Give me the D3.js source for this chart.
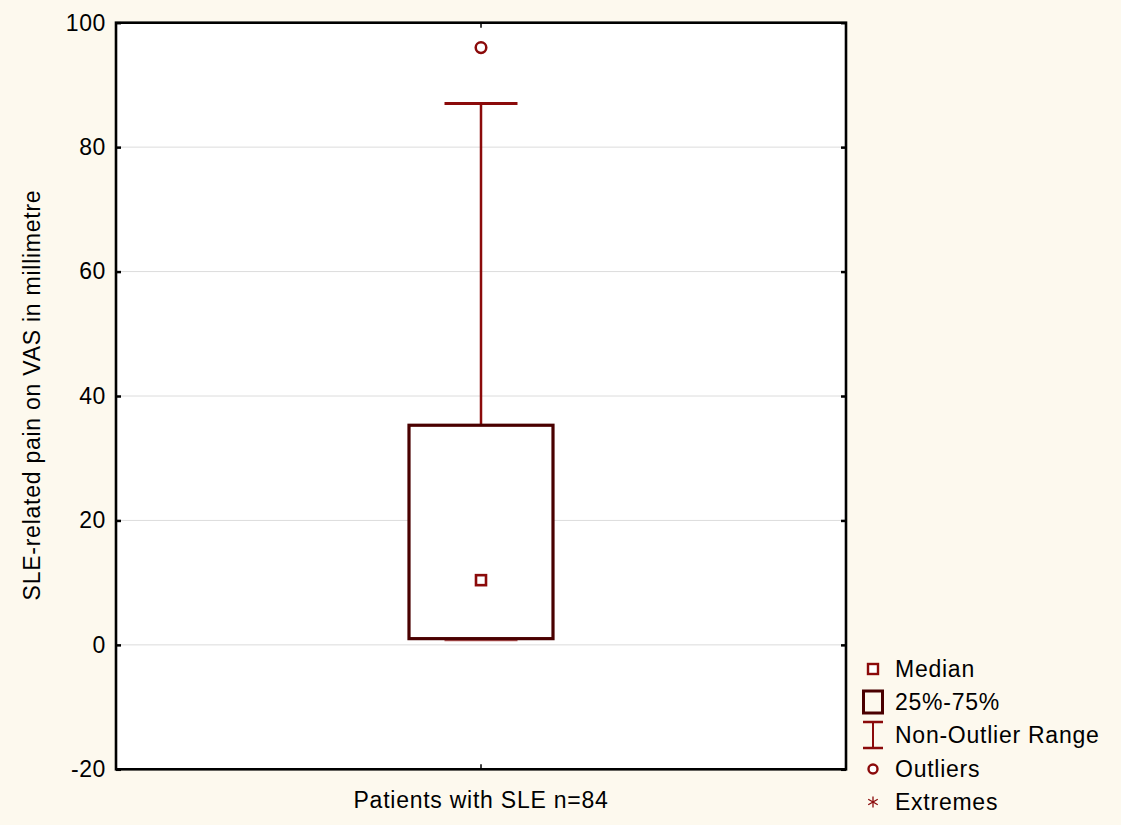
<!DOCTYPE html>
<html>
<head>
<meta charset="utf-8">
<script src="https://cdn.jsdelivr.net/npm/d3@7/dist/d3.min.js"></script>
<style>
  html, body { margin: 0; padding: 0; background: #FDF9EE; }
  svg { display: block; }
  text { font-family: "Liberation Sans", Arial, sans-serif; fill: #000; }
</style>
</head>
<body>
<svg id="chart" width="1121" height="825"></svg>
<script>
// Box plot summary of SLE-related pain (VAS, mm)
const categories = ["Patients with SLE n=84"];
const medians = [10.4];
const q1s = [1.0];
const q3s = [35.3];
const whiskerLows = [0.8];
const whiskerHighs = [87.0];
const outliers = [[96.0]];
const extremes = [[]];
const yTicks = [-20, 0, 20, 40, 60, 80, 100];
const legendLabels = ["Median", "25%-75%", "Non-Outlier Range", "Outliers", "Extremes"];

const svg = d3.select("#chart");
const W = 1121, H = 825;
const margin = { left: 116, right: W - 846, top: 22.7, bottom: H - 769.3 };
const x0 = margin.left, x1 = W - margin.right;
const yTop = margin.top, yBot = H - margin.bottom;

const boxColor = "#4A0000";
const markColor = "#8B0A0A";
const font = "Liberation Sans, Arial, sans-serif";

const x = d3.scaleBand().domain(categories).range([x0, x1]);
const y = d3.scaleLinear().domain([-20, 100]).range([yBot, yTop]);

// plot area
svg.append("rect").attr("x", x0).attr("y", yTop).attr("width", x1 - x0).attr("height", yBot - yTop)
  .attr("fill", "#fff");

// gridlines
svg.append("g").selectAll("line").data(yTicks.filter(t => t > -20 && t < 100)).join("line")
  .attr("x1", x0).attr("x2", x1)
  .attr("y1", d => y(d)).attr("y2", d => y(d))
  .attr("stroke", "#DCDCDC").attr("stroke-width", 1);

const boxW = 144, capW = 73;

categories.forEach((c, i) => {
  const cx = x(c) + x.bandwidth() / 2;
  const g = svg.append("g");
  // whisker stems
  g.append("line").attr("x1", cx).attr("x2", cx)
    .attr("y1", y(whiskerHighs[i])).attr("y2", y(q3s[i]))
    .attr("stroke", markColor).attr("stroke-width", 2.5);
  g.append("line").attr("x1", cx).attr("x2", cx)
    .attr("y1", y(q1s[i])).attr("y2", y(whiskerLows[i]))
    .attr("stroke", markColor).attr("stroke-width", 2.5);
  // whisker caps
  [whiskerHighs[i], whiskerLows[i]].forEach((v, k) => {
    g.append("line").attr("x1", cx - capW / 2).attr("x2", cx + capW / 2)
      .attr("y1", y(v)).attr("y2", y(v))
      .attr("stroke", k === 0 ? markColor : "#B35555").attr("stroke-width", k === 0 ? 3 : 2.5);
  });
  // box
  g.append("rect").attr("x", cx - boxW / 2).attr("width", boxW)
    .attr("y", y(q3s[i])).attr("height", y(q1s[i]) - y(q3s[i]))
    .attr("fill", "#fff").attr("stroke", boxColor).attr("stroke-width", 3.2);
  // median marker
  g.append("rect").attr("x", cx - 5).attr("y", y(medians[i]) - 5)
    .attr("width", 10).attr("height", 10)
    .attr("fill", "#fff").attr("stroke", markColor).attr("stroke-width", 2.6);
  // outliers
  g.selectAll("circle.out").data(outliers[i]).join("circle").attr("class", "out")
    .attr("cx", cx).attr("cy", d => y(d)).attr("r", 5.3)
    .attr("fill", "#fff").attr("stroke", markColor).attr("stroke-width", 2.5);
  // extremes
  g.selectAll("text.ext").data(extremes[i]).join("text").attr("class", "ext")
    .attr("x", cx).attr("y", d => y(d)).text("*");
});

// frame
svg.append("rect").attr("x", x0).attr("y", yTop).attr("width", x1 - x0).attr("height", yBot - yTop)
  .attr("fill", "none").attr("stroke", "#000").attr("stroke-width", 2.6);

// left axis
const yAxis = d3.axisLeft(y).tickValues(yTicks).tickSize(-5).tickPadding(14).tickFormat(d => String(d));
const ga = svg.append("g").attr("transform", `translate(${x0},0)`).call(yAxis);
ga.select(".domain").remove();
ga.selectAll(".tick line").attr("stroke", "#000").attr("stroke-width", 2.5);
ga.selectAll(".tick text").attr("font-size", 23).attr("letter-spacing", "0.6px")
  .attr("font-family", font).attr("fill", "#000").attr("dx", 4);

// right axis ticks
const yAxisR = d3.axisRight(y).tickValues(yTicks).tickSize(-5).tickFormat("");
const gr = svg.append("g").attr("transform", `translate(${x1},0)`).call(yAxisR);
gr.select(".domain").remove();
gr.selectAll(".tick line").attr("stroke", "#000").attr("stroke-width", 2.5);

// bottom axis
const xAxis = d3.axisBottom(x).tickSize(-5).tickPadding(22);
const gb = svg.append("g").attr("transform", `translate(0,${yBot})`).call(xAxis);
gb.select(".domain").remove();
gb.selectAll(".tick line").attr("stroke", "#000").attr("stroke-width", 1.5);
gb.selectAll(".tick text").attr("font-size", 23).attr("letter-spacing", "0.75px")
  .attr("font-family", font).attr("fill", "#000");

// top axis tick
const xAxisT = d3.axisTop(x).tickSize(-5).tickFormat("");
const gt = svg.append("g").attr("transform", `translate(0,${yTop})`).call(xAxisT);
gt.select(".domain").remove();
gt.selectAll(".tick line").attr("stroke", "#000").attr("stroke-width", 1.5);

// y-axis title
svg.append("text")
  .attr("transform", `translate(40,395) rotate(-90)`)
  .attr("text-anchor", "middle").attr("font-size", 23).attr("letter-spacing", "0.75px")
  .text("SLE-related pain on VAS in millimetre");

// legend
const legY = [669, 702, 735, 769, 802];
const lx = 873;
const leg = svg.append("g");
legendLabels.forEach((lab, i) => {
  leg.append("text").attr("x", 895).attr("y", legY[i] + 8).attr("font-size", 23)
    .attr("letter-spacing", "0.75px").text(lab);
});
leg.append("rect").attr("x", lx - 5).attr("y", legY[0] - 5).attr("width", 10).attr("height", 10)
  .attr("fill", "#fff").attr("stroke", markColor).attr("stroke-width", 2.4);
leg.append("rect").attr("x", lx - 9.5).attr("y", legY[1] - 11).attr("width", 19).attr("height", 22)
  .attr("fill", "none").attr("stroke", boxColor).attr("stroke-width", 3);
leg.append("line").attr("x1", lx).attr("x2", lx).attr("y1", legY[2] - 13).attr("y2", legY[2] + 13)
  .attr("stroke", markColor).attr("stroke-width", 2);
[legY[2] - 13, legY[2] + 13].forEach(yy => {
  leg.append("line").attr("x1", lx - 10).attr("x2", lx + 10).attr("y1", yy).attr("y2", yy)
    .attr("stroke", markColor).attr("stroke-width", 2.5);
});
leg.append("circle").attr("cx", lx).attr("cy", legY[3]).attr("r", 4.5)
  .attr("fill", "#fff").attr("stroke", markColor).attr("stroke-width", 2.4);
// asterisk glyph for extremes
const ast = leg.append("g").attr("transform", `translate(${lx},${legY[4]})`);
[0, 60, 120].forEach(a => {
  ast.append("line").attr("x1", 0).attr("y1", -5.5).attr("x2", 0).attr("y2", 5.5)
    .attr("transform", `rotate(${a})`).attr("stroke", markColor).attr("stroke-width", 1.3);
});
</script>
</body>
</html>
